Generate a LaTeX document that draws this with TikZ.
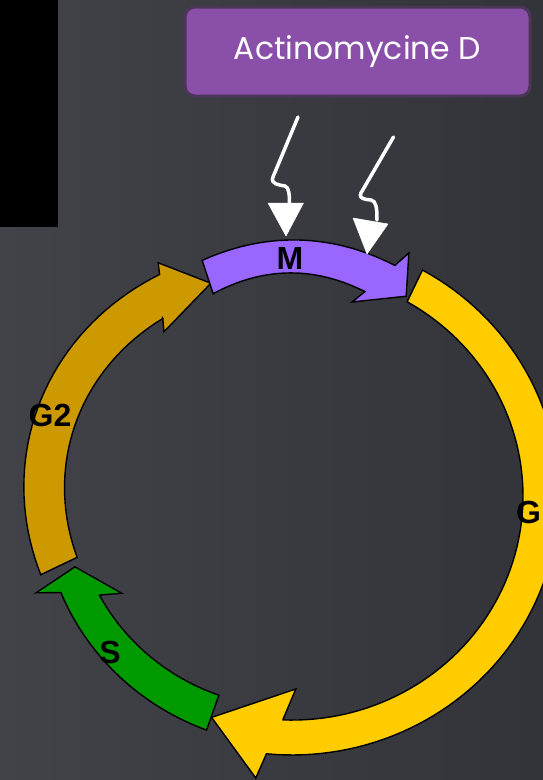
\documentclass[tikz,border=0pt]{standalone}
\usepackage{fontspec}
\setmainfont{Liberation Sans}
\newfontfamily\boxfont{Poppins}
\definecolor{bgL}{HTML}{424249}
\definecolor{bgR}{HTML}{323439}
\definecolor{boxfill}{HTML}{8A50A9}
\definecolor{boxborder}{HTML}{4B3659}
\definecolor{mcol}{HTML}{9966FF}
\definecolor{gonecol}{HTML}{FFCC00}
\definecolor{scol}{HTML}{009900}
\definecolor{gtwocol}{HTML}{CC9900}
\begin{document}
\begin{tikzpicture}[x=1pt,y=-1pt,
  band/.style={draw=black, line width=1.4pt, line join=miter},
  lbl/.style={font=\bfseries\fontsize{32}{32}\selectfont, text=black, inner sep=0pt},
  bolt/.style={draw=white, line width=3.5pt, line cap=round},
  bolthead/.style={fill=white, draw=white, line width=0.5pt, line join=round}]
\useasboundingbox (0,0) rectangle (543,780);
\clip (0,0) rectangle (543,780);
\shade[left color=bgL, right color=bgR] (0,0) rectangle (543,780);
\fill[black] (0,0) rectangle (58,227);

\node[draw=boxborder, fill=boxfill, rounded corners=10pt, line width=3pt,
  minimum width=345pt, minimum height=89pt, text=white,
  font=\boxfont\fontsize{31.5}{31.5}\selectfont] (drug) at (357.5,51.5) {Actinomycine D};

\begin{scope}[shift={(292,496)}, x=1pt, y=0.97pt]
  % G2
  \draw[band, fill=gtwocol] plot[domain=197.9:120.1, samples=40] (\x:{264+6*sin(180*(\x-120.1)/77.8)})
    -- (119.1:275.2) -- (110.3:233.9) -- (127.1:212.3) -- (125.2:224.2)
    -- plot[domain=125.2:196.4, samples=40] (\x:{224+5*sin(180*(\x-125.2)/71.2)}) -- cycle;
  % S
  \draw[band, fill=scol] plot[domain=250.5:203.3, samples=40] (\x:{256+(251.6-256)*(250.5-\x)/47.2})
    -- (201.3:274.7) -- (198.6:229) -- (210.5:197.6) -- (208:217.4)
    -- plot[domain=208:250.4, samples=40] (\x:218) -- cycle;
  % M
  \draw[band, fill=mcol] plot[domain=110.3:66.6, samples=40] (\x:{259+5*sin(180*(\x-66.6)/43.7)})
    -- (65:276.5) -- (61:235.5) -- (73.3:208.8) -- (70.9:223)
    -- plot[domain=70.9:110.7, samples=40] (\x:{223+7*sin(180*(\x-70.9)/39.8)}) -- cycle;
  % G1
  \draw[band, fill=gonecol] plot[domain=60.75:-95.5, samples=80] (\x:267)
    -- (-97.1:293) -- (-109.4:242) -- (-88.9:199) -- (-92.2:230)
    -- plot[domain=-92.2:60.1, samples=80] (\x:231) -- cycle;
\end{scope}

\node[lbl] (lm) at (290,258.5) {M};
\node[lbl] (lg2) at (50,415) {G2};
\node[lbl] (ls) at (110,652.5) {S};
\node[lbl] (lg1) at (528.5,512.5) {G};

% bolts
\coordinate (b1s) at (298,117);
\coordinate (b1e) at (289.5,204);
\draw[bolt] (b1s) -- (273,177) .. controls (270,184) and (279,185) .. (285,186)
  .. controls (289,187) and (289.5,195) .. (b1e);
\fill[bolthead] (268,203) -- (303.5,203) -- (286,236) -- cycle;
\coordinate (b2s) at (393.5,137);
\coordinate (b2e) at (377,220);
\draw[bolt] (b2s) -- (361,193) .. controls (358,199) and (366,199.5) .. (371,200)
  .. controls (376,201) and (377,207) .. (b2e);
\fill[bolthead] (353,218) -- (388,224) -- (367,254) -- cycle;
\end{tikzpicture}
\end{document}
